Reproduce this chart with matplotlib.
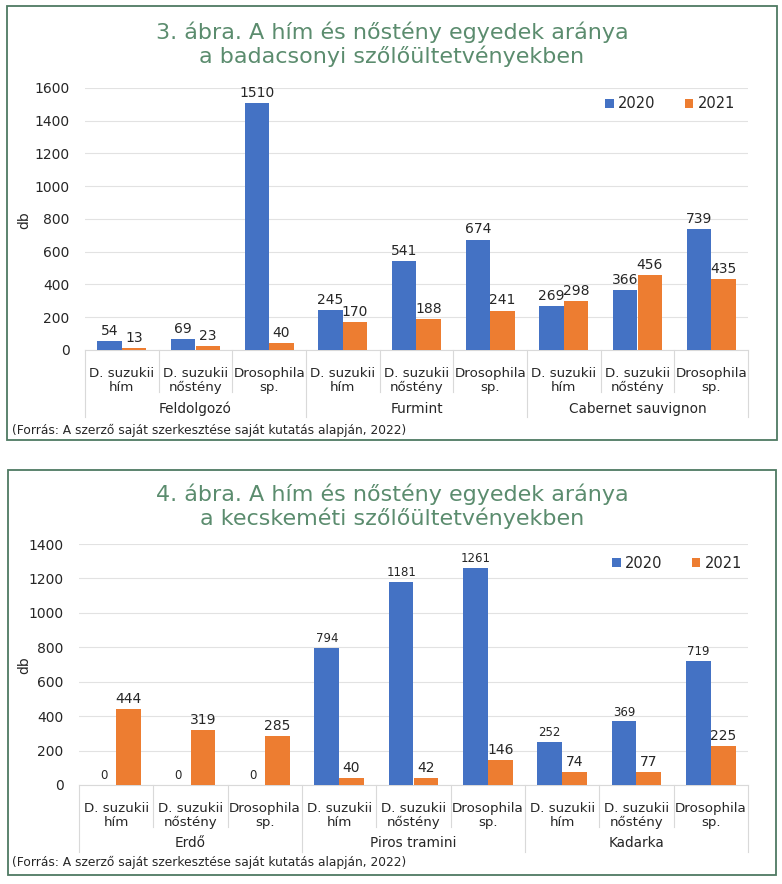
import matplotlib
matplotlib.use("Agg")
import matplotlib.pyplot as plt
from matplotlib.patches import Rectangle
from matplotlib.lines import Line2D
import numpy as np

W, H = 782, 884

# adatok
kategoriak = ["D. suzukii\nhím", "D. suzukii\nnőstény", "Drosophila\nsp."] * 3

cim1 = "3. ábra. A hím és nőstény egyedek aránya\na badacsonyi szőlőültetvényekben"
csoportok1 = ["Feldolgozó", "Furmint", "Cabernet sauvignon"]
ev2020_1 = [54, 69, 1510, 245, 541, 674, 269, 366, 739]
ev2021_1 = [13, 23, 40, 170, 188, 241, 298, 456, 435]

cim2 = "4. ábra. A hím és nőstény egyedek aránya\na kecskeméti szőlőültetvényekben"
csoportok2 = ["Erdő", "Piros tramini", "Kadarka"]
ev2020_2 = [0, 0, 0, 794, 1181, 1261, 252, 369, 719]
ev2021_2 = [444, 319, 285, 40, 42, 146, 74, 77, 225]

forras = "(Forrás: A szerző saját szerkesztése saját kutatás alapján, 2022)"

KEK = "#4472C4"
NARANCS = "#ED7D31"
ZOLD = "#5b8c6e"
KERET = "#4e7a62"
RACS = "#e2e2e2"
SZOVEG = "#262626"

plt.rcParams['font.family'] = ['DejaVu Sans']

fig = plt.figure(figsize=(W / 100, H / 100), dpi=100)


def px(x, y):
    # pixel -> figure koordináta
    return x / W, 1 - y / H


def panel(keret, tengely, cim, cim_y, csoportok, v20, v21, ymax, db_y,
          leg_y, leg_x, cimke_pad, csop_y, forras_y, sep_kis, sep_nagy,
          m20, m21):
    # zöld keret
    bx0, by0, bx1, by1 = keret
    fig.patches.append(Rectangle(px(bx0, by1), (bx1 - bx0) / W, (by1 - by0) / H,
                                 transform=fig.transFigure, fill=False,
                                 edgecolor=KERET, lw=1.3))
    x0, ytop, x1, y0 = tengely
    ax = fig.add_axes([x0 / W, 1 - y0 / H, (x1 - x0) / W, (y0 - ytop) / H])
    hpx = y0 - ytop

    x = np.arange(len(v20))
    w = 1 / 3
    ax.bar(x - w / 2, v20, w, color=KEK, label="2020", zorder=3)
    ax.bar(x + w / 2, v21, w, color=NARANCS, label="2021", zorder=3)
    for i in range(len(v20)):
        ax.text(x[i] - w / 2, v20[i] + ymax * 0.012, str(v20[i]), ha="center",
                va="bottom", fontsize=m20, color=SZOVEG)
        ax.text(x[i] + w / 2, v21[i] + ymax * 0.012, str(v21[i]), ha="center",
                va="bottom", fontsize=m21, color=SZOVEG)

    ax.set_xlim(-0.5, len(v20) - 0.5)
    ax.set_ylim(0, ymax)
    ax.set_yticks(np.arange(0, ymax + 1, 200))
    ax.tick_params(axis="y", length=0, labelsize=10, labelcolor=SZOVEG, pad=11)
    ax.set_xticks(x)
    ax.set_xticklabels(kategoriak, fontsize=9.6, color=SZOVEG, linespacing=1.15)
    ax.tick_params(axis="x", length=0, pad=cimke_pad)
    ax.grid(axis="y", color=RACS, lw=0.8, zorder=0)
    for s in ["top", "right", "left"]:
        ax.spines[s].set_visible(False)
    ax.spines["bottom"].set_color("#d9d9d9")

    # elválasztó vonalak a kategóriák között
    tr = ax.get_xaxis_transform()
    for k in range(len(v20) + 1):
        hossz = sep_nagy if k % 3 == 0 else sep_kis
        ax.add_line(Line2D([k - 0.5, k - 0.5], [0, -hossz / hpx], transform=tr,
                           color="#d9d9d9", lw=0.8, clip_on=False))
    for g, nev in enumerate(csoportok):
        ax.text(g * 3 + 1, -csop_y / hpx, nev, transform=tr, ha="center",
                va="center", fontsize=9.8, color=SZOVEG)

    ax.set_ylabel("db", fontsize=10, color=SZOVEG)
    ax.yaxis.set_label_coords(*ax.transAxes.inverted().transform(
        fig.transFigure.transform(px(31, db_y))))

    fig.text(*px(392, cim_y), cim, ha="center", va="center", fontsize=16,
             color=ZOLD, linespacing=1.15)
    ax.legend(loc="center", bbox_to_anchor=ax.transAxes.inverted().transform(
        fig.transFigure.transform(px(leg_x, leg_y))), ncol=2, frameon=False,
        fontsize=10.5, handlelength=0.6, handleheight=0.6, handletextpad=0.3,
        columnspacing=2.0, labelcolor=SZOVEG)
    fig.text(*px(12, forras_y), forras, ha="left", va="center", fontsize=8.8,
             color=SZOVEG)
    return ax


panel((7, 6, 777, 440), (85, 88, 748, 350), cim1, 44, csoportok1,
      ev2020_1, ev2021_1, 1600, 220, 104, 670, 12, 59, 430, 42, 67, 10, 10)
panel((8, 470, 776, 875), (79, 544, 748, 785), cim2, 506, csoportok2,
      ev2020_2, ev2021_2, 1400, 665, 563, 677, 12, 58, 862, 42, 67, 8.5, 10)

fig.savefig("out.png", dpi=100, facecolor="white")
